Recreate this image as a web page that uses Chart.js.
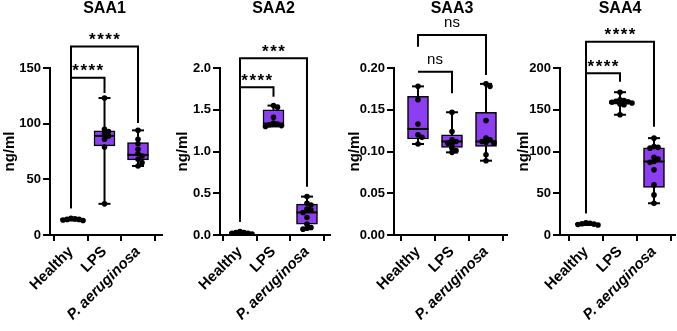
<!DOCTYPE html>
<html>
<head>
<meta charset="utf-8">
<script src="https://cdn.jsdelivr.net/npm/chart.js@4.4.1/dist/chart.umd.min.js"></script>
<style>
  html, body { margin: 0; padding: 0; background: #fff; }
  #wrap { position: relative; width: 677px; height: 331px; overflow: hidden; }
  canvas { position: absolute; top: 0; }
</style>
</head>
<body>
<div id="wrap">
  <canvas id="c0" width="170" height="331" style="left:0px"></canvas>
  <canvas id="c1" width="170" height="331" style="left:170px"></canvas>
  <canvas id="c2" width="168" height="331" style="left:340px"></canvas>
  <canvas id="c3" width="169" height="331" style="left:508px"></canvas>
</div>
<script>
const groups = ['Healthy', 'LPS', 'P. aeruginosa'];
const titles = ['SAA1', 'SAA2', 'SAA3', 'SAA4'];
const yTicks = [
    [0, 50, 100, 150],
    [0, 0.5, 1.0, 1.5, 2.0],
    [0, 0.05, 0.10, 0.15, 0.20],
    [0, 50, 100, 150, 200]
];
const tickDecimals = [0, 1, 2, 0];

// single animals, per group (Healthy, LPS, P. aeruginosa)
const saa1Points = [
    [15, 14.5, 14, 14, 13.5, 13],
    [123, 95, 93, 91, 89, 86, 79, 28],
    [94, 86, 82, 77, 73, 71, 68, 65, 62]
];
const saa2Points = [
    [0.04, 0.03, 0.03, 0.02, 0.02, 0.01],
    [1.55, 1.53, 1.41, 1.34, 1.33, 1.32, 1.31, 1.30],
    [0.46, 0.38, 0.36, 0.31, 0.30, 0.27, 0.21, 0.13, 0.09, 0.08, 0.07]
];
const saa3Points = [
    [0.178, 0.162, 0.133, 0.120, 0.117, 0.109],
    [0.147, 0.124, 0.114, 0.112, 0.110, 0.109, 0.104, 0.101, 0.099],
    [0.181, 0.178, 0.137, 0.116, 0.114, 0.112, 0.111, 0.110, 0.096, 0.089]
];
const saa4Points = [
    [14.5, 14, 13.5, 13, 12.5, 12],
    [171, 162, 161, 160, 159.5, 159, 158, 157, 156, 144],
    [116, 106, 105, 104, 93, 91, 88, 87, 78, 60, 48, 38]
];

// box stats: min, q1, median, q3, max
const saa1Boxes = [[13, 13.5, 14, 14.8, 15], [28, 80, 89, 93.5, 123], [62, 67.5, 72, 83, 94]];
const saa2Boxes = [[0.01, 0.015, 0.025, 0.035, 0.04], [1.30, 1.31, 1.335, 1.50, 1.55], [0.07, 0.13, 0.27, 0.37, 0.46]];
const saa3Boxes = [[0.109, 0.115, 0.127, 0.166, 0.178], [0.099, 0.105, 0.112, 0.120, 0.147], [0.089, 0.106, 0.112, 0.147, 0.181]];
const saa4Boxes = [[12, 12.5, 13.2, 14, 14.5], [144, 157, 159, 161, 171], [38, 57, 88, 104.5, 116]];

// comparisons: from, to, left leg end, bar level, right leg end
const saa1Brackets = [[0, 1, 24, 141.3, 127.6], [0, 2, 24, 169.2, 100.6]];
const saa2Brackets = [[0, 1, 0.16, 1.769, 1.656], [0, 2, 0.16, 2.116, 0.578]];
const saa3Brackets = [[0, 1, null, 0.1956, 0.1697], [0, 2, 0.2255, 0.2395, 0.1916]];
const saa4Brackets = [[0, 1, 26, 193.7, 183.6], [0, 2, 26, 231.5, 129.7]];
const saa1Stars = ['****', '****'];
const saa2Stars = ['****', '***'];
const saa3Stars = ['ns', 'ns'];
const saa4Stars = ['****', '****'];

const allPoints = [saa1Points, saa2Points, saa3Points, saa4Points];
const allBoxes = [saa1Boxes, saa2Boxes, saa3Boxes, saa4Boxes];
const allBrackets = [saa1Brackets, saa2Brackets, saa3Brackets, saa4Brackets];
const allStars = [saa1Stars, saa2Stars, saa3Stars, saa4Stars];

const FONT = '"Liberation Sans", Arial, sans-serif';
const PURPLE = '#8c3ef0';
const AREA_H = 167;

// canvas geometry per panel
const panels = [
    {width: 170, axisW: 50, padR: 8, xMin: -0.627, xMax: 2.716, titlePad: 1},
    {width: 170, axisW: 50, padR: 10, xMin: -0.597, xMax: 2.687, titlePad: 4},
    {width: 168, axisW: 54, padR: 0, xMin: -0.706, xMax: 2.647, titlePad: 6},
    {width: 169, axisW: 52, padR: 2, xMin: -0.765, xMax: 2.618, titlePad: 7}
];

// spread dots sideways so they don't sit on each other
const swarm = (vals, idx, yMax, catPx) => {
    const ppu = AREA_H / yMax;
    const placed = [];
    return vals.map(v => {
        const py = v * ppu;
        let off = 0;
        for (let k = 0; k < 40; k++) {
            off = (k % 2 ? 1 : -1) * Math.ceil(k / 2) * 2;
            if (placed.every(p => (p[0] - off) ** 2 + (p[1] - py) ** 2 >= 16)) break;
        }
        placed.push([off, py]);
        return {x: idx + off / catPx, y: v};
    });
};

const notes = (title, brackets, stars) => ({
    id: 'notes',
    afterDatasetsDraw(chart) {
        const {ctx, scales: {x, y}} = chart;
        ctx.save();
        ctx.fillStyle = '#000';
        ctx.textAlign = 'center';
        ctx.textBaseline = 'alphabetic';
        ctx.font = 'bold 16px ' + FONT;
        ctx.fillText(title, x.getPixelForValue(1), 13);
        brackets.forEach((b, i) => {
            const mid = x.getPixelForValue((b[0] + b[1]) / 2);
            const top = y.getPixelForValue(b[3]);
            if (stars[i] === 'ns') {
                ctx.font = '15px ' + FONT;
                ctx.letterSpacing = '0px';
                ctx.fillText(stars[i], mid, top - 8);
            } else {
                ctx.font = 'bold 17px ' + FONT;
                ctx.letterSpacing = '1.5px';
                ctx.fillText(stars[i], mid + 0.75, top - 1.5);
            }
        });
        ctx.restore();
    }
});

const newChart = (i) => {
    const p = panels[i];
    const ticks = yTicks[i];
    const yMax = ticks[ticks.length - 1];
    const catPx = (p.width - p.axisW - p.padR) / (p.xMax - p.xMin);
    const boxes = allBoxes[i];

    const whiskers = [];
    boxes.forEach((b, g) => {
        whiskers.push({x: g, y: b[0]}, {x: g, y: b[4]}, {x: g, y: null});
    });

    const datasets = [
        {
            type: 'scatter',
            data: allPoints[i].flatMap((vals, g) => swarm(vals, g, yMax, catPx)),
            backgroundColor: '#000',
            borderColor: '#000',
            pointRadius: 2.8,
            borderWidth: 0,
            order: 0
        },
        {
            type: 'scatter',
            data: boxes.map((b, g) => ({x: g, y: b[2]})),
            pointStyle: 'line',
            pointRadius: 10.5,
            borderColor: '#000',
            borderWidth: 2,
            order: 1
        },
        {
            type: 'scatter',
            data: boxes.flatMap((b, g) => [{x: g, y: b[0]}, {x: g, y: b[4]}]),
            pointStyle: 'line',
            pointRadius: 6,
            borderColor: '#000',
            borderWidth: 2,
            order: 1
        },
        {
            type: 'bar',
            data: boxes.map((b, g) => ({x: g, y: [b[1], b[3]]})),
            backgroundColor: PURPLE,
            borderColor: '#000',
            borderWidth: 1.5,
            borderSkipped: false,
            barThickness: 21,
            order: 2
        },
        {
            type: 'line',
            data: whiskers,
            borderColor: '#000',
            borderWidth: 2,
            pointRadius: 0,
            spanGaps: false,
            order: 3
        }
    ];

    allBrackets[i].forEach(b => {
        const pts = [];
        if (b[2] !== null) pts.push({x: b[0], y: b[2]});
        pts.push({x: b[0], y: b[3]}, {x: b[1], y: b[3]}, {x: b[1], y: b[4]});
        datasets.push({
            type: 'line',
            data: pts,
            borderColor: '#000',
            borderWidth: 2,
            pointRadius: 0,
            clip: false,
            order: 4
        });
    });

    return new Chart(document.getElementById('c' + i), {
        type: 'bar',
        data: {datasets},
        options: {
            responsive: false,
            animation: false,
            events: [],
            layout: {autoPadding: false, padding: {top: 68, right: p.padR, bottom: 0, left: 0}},
            plugins: {legend: {display: false}, tooltip: {enabled: false}, title: {display: false}},
            scales: {
                x: {
                    type: 'linear',
                    min: p.xMin,
                    max: p.xMax,
                    offset: false,
                    afterBuildTicks: (s) => { s.ticks = [0, 1, 2].map(v => ({value: v})); },
                    afterFit: (s) => { s.height = 96; s.paddingLeft = 0; s.paddingRight = 0; },
                    border: {display: true, color: '#000', width: 2},
                    grid: {drawOnChartArea: false, drawTicks: true, tickLength: 6, color: '#000', lineWidth: 2},
                    ticks: {
                        autoSkip: false,
                        minRotation: 45,
                        maxRotation: 45,
                        padding: 2,
                        color: '#000',
                        callback: (v) => groups[v],
                        font: (c) => ({family: FONT, size: 15, weight: 'bold', style: c.index === 2 ? 'italic' : 'normal'})
                    }
                },
                y: {
                    type: 'linear',
                    min: 0,
                    max: yMax,
                    afterBuildTicks: (s) => { s.ticks = ticks.map(v => ({value: v})); },
                    afterFit: (s) => { s.width = p.axisW; },
                    border: {display: true, color: '#000', width: 2},
                    grid: {drawOnChartArea: false, drawTicks: true, tickLength: 7, color: '#000', lineWidth: 2},
                    ticks: {
                        padding: 2,
                        color: '#000',
                        font: {family: FONT, size: 13, weight: 'bold'},
                        callback: (v) => Number(v).toFixed(tickDecimals[i])
                    },
                    title: {
                        display: true,
                        text: 'ng/ml',
                        color: '#000',
                        padding: {top: p.titlePad, bottom: 0},
                        font: {family: FONT, size: 15, weight: 'bold'}
                    }
                }
            }
        },
        plugins: [notes(titles[i], allBrackets[i], allStars[i])]
    });
};

const charts = [];
for (let i = 0; i < 4; ++i) {
    charts[i] = newChart(i);
}
</script>
</body>
</html>
